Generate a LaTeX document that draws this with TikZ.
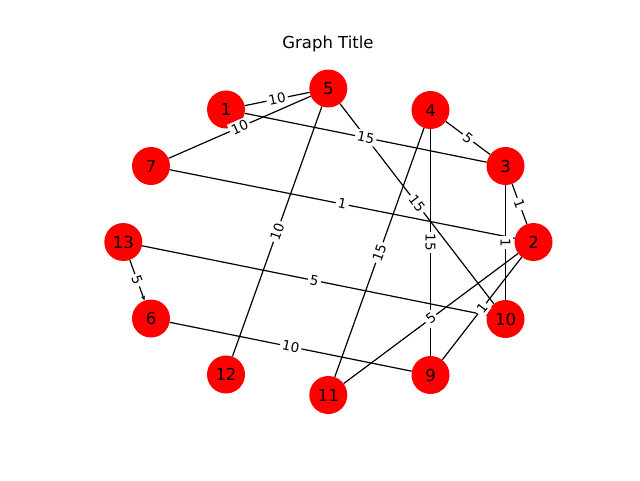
\documentclass[tikz,border=0pt]{standalone}
\usepackage{fontspec}
\setmainfont{DejaVu Sans}
\usetikzlibrary{arrows.meta}
\begin{document}
\begin{tikzpicture}[x=1pt,y=-1pt,
  vertex/.style={circle,fill=red,draw=none,minimum size=38,inner sep=0,font=\fontsize{16.5}{18}\selectfont},
  edge/.style={draw=black,line width=1.2},
  wlabel/.style={fill=white,inner sep=2.2,font=\fontsize{13.5}{15}\selectfont,sloped,midway}]
\useasboundingbox (0,0) rectangle (640,480);
\node[font=\fontsize{16.5}{18}\selectfont] (title) at (328,44) {Graph Title};
\node[vertex] (n5) at (328.3,88.5) {5};
\node[vertex] (n1) at (226,109.5) {1};
\node[vertex] (n4) at (430.5,110) {4};
\node[vertex] (n7) at (151,166) {7};
\node[vertex] (n3) at (505.5,166) {3};
\node[vertex] (n13) at (123.3,242) {13};
\node[vertex] (n2) at (533.5,242) {2};
\node[vertex] (n6) at (151,318.5) {6};
\node[vertex] (n10) at (505.5,319) {10};
\node[vertex] (n12) at (226,374.5) {12};
\node[vertex] (n9) at (430.5,375) {9};
\node[vertex] (n11) at (328.3,395) {11};
% edges
\draw[edge] (n1) -- (n5);
\draw[edge] (n7) -- (n5);
\draw[edge] (n1) -- (n3);
\draw[edge] (n5) -- (n10);
\draw[edge] (n5) -- (n12);
\draw[edge] (n4) -- (n3);
\draw[edge] (n4) -- (n9);
\draw[edge] (n4) -- (n11);
\draw[edge] (n3) -- (n2);
\draw[edge] (n3) -- (n10);
\draw[edge] (n7) -- (n2);
\draw[edge] (n2) -- (n11);
\draw[edge] (n2) -- (n9);
\draw[edge] (n13) -- (n10);
\draw[edge,-{Stealth[length=4.5,width=4]}] (n13) -- (n6);
\draw[edge] (n6) -- (n9);
% edge labels
\path (n1) -- node[wlabel] {10} (n5);
\path (n7) -- node[wlabel] {10} (n5);
\path (n1) -- node[wlabel] {15} (n3);
\path (n5) -- node[wlabel] {15} (n10);
\path (n5) -- node[wlabel] {10} (n12);
\path (n4) -- node[wlabel] {5} (n3);
\path (n4) -- node[wlabel] {15} (n9);
\path (n4) -- node[wlabel] {15} (n11);
\path (n3) -- node[wlabel] {1} (n2);
\path (n3) -- node[wlabel] {1} (n10);
\path (n7) -- node[wlabel] {1} (n2);
\path (n2) -- node[wlabel] {5} (n11);
\path (n2) -- node[wlabel] {1} (n9);
\path (n13) -- node[wlabel] {5} (n10);
\path (n13) -- node[wlabel] {5} (n6);
\path (n6) -- node[wlabel] {10} (n9);
\end{tikzpicture}
\end{document}
